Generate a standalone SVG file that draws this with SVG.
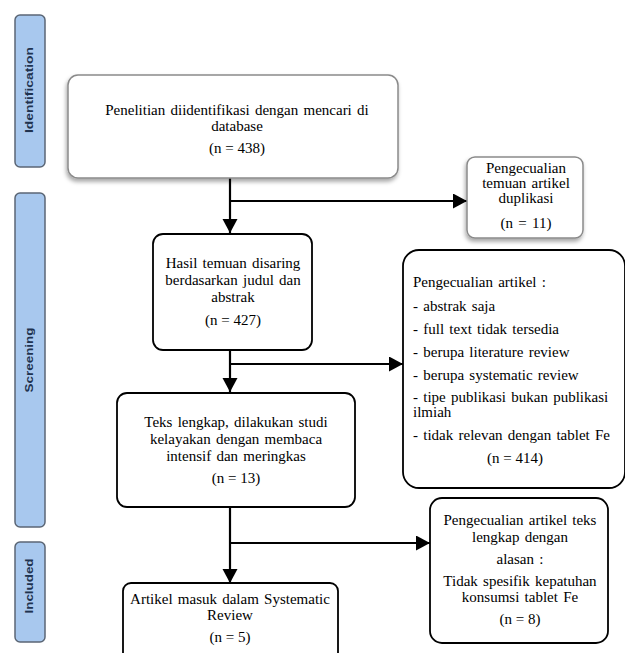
<svg xmlns="http://www.w3.org/2000/svg" width="625" height="653" viewBox="0 0 625 653">
<style>
.band{fill:#a8c8ee;stroke:#5b6675;stroke-width:1.5}
.bt{font-family:"Liberation Sans",Arial,sans-serif;font-weight:bold;font-size:11px;fill:#1f3350;text-anchor:middle}
.box{fill:#fff;stroke:#000;stroke-width:1.8}
.gbox{fill:#fff;stroke:#8a8a8a;stroke-width:1.5}
.t{font-family:"Liberation Serif","Times New Roman",serif;font-size:15px;word-spacing:1.5px;fill:#000;text-anchor:middle}
.tl{font-family:"Liberation Serif","Times New Roman",serif;font-size:15px;word-spacing:1.5px;fill:#000;text-anchor:start}
.n{word-spacing:0}
.c{fill:none;stroke:#000;stroke-width:2.2}
</style>
<defs>
<marker id="ah" markerUnits="userSpaceOnUse" markerWidth="16" markerHeight="16" refX="14" refY="7.5" orient="auto">
<path d="M0,0 L14,7.5 L0,15 z" fill="#000"/>
</marker>
<filter id="sh" x="-10%" y="-10%" width="120%" height="130%">
<feDropShadow dx="-1" dy="3" stdDeviation="2" flood-color="#000" flood-opacity="0.35"/>
</filter>
</defs>
<rect width="625" height="653" fill="#fff"/>
<g id="band-identification">
<rect class="band" x="15" y="15" width="30" height="152" rx="5"/>
<text class="bt" transform="translate(33,90) rotate(-90)" textLength="86" lengthAdjust="spacingAndGlyphs">Identification</text>
</g>
<g id="band-screening">
<rect class="band" x="15" y="193" width="30" height="334" rx="5"/>
<text class="bt" transform="translate(33,360) rotate(-90)" textLength="65" lengthAdjust="spacingAndGlyphs">Screening</text>
</g>
<g id="band-included">
<rect class="band" x="15" y="542" width="30" height="100" rx="5"/>
<text class="bt" transform="translate(33,586) rotate(-90)" textLength="55" lengthAdjust="spacingAndGlyphs">Included</text>
</g>
<g id="connectors">
<path class="c" d="M230,178 V233" marker-end="url(#ah)"/>
<path class="c" d="M230,201 H467" marker-end="url(#ah)"/>
<path class="c" d="M230,350 V392" marker-end="url(#ah)"/>
<path class="c" d="M230,364 H403" marker-end="url(#ah)"/>
<path class="c" d="M230,507 V583" marker-end="url(#ah)"/>
<path class="c" d="M230,543 H430" marker-end="url(#ah)"/>
</g>
<g id="identified">
<rect class="gbox" x="68" y="75" width="330" height="103" rx="10" filter="url(#sh)"/>
<text class="t" x="237" y="115">Penelitian diidentifikasi dengan mencari di</text>
<text class="t" x="237" y="131">database</text>
<text class="t n" x="237" y="153">(n = 438)</text>
</g>
<g id="duplicates">
<rect class="gbox" x="467" y="157" width="116" height="81" rx="8" filter="url(#sh)"/>
<text class="t" x="526" y="173">Pengecualian</text>
<text class="t" x="526" y="188">temuan artikel</text>
<text class="t" x="526" y="203">duplikasi</text>
<text class="t" x="526" y="228">(n = 11)</text>
</g>
<g id="screened">
<rect class="box" x="153" y="234" width="159" height="116" rx="10"/>
<text class="t" x="233" y="268">Hasil temuan disaring</text>
<text class="t" x="233" y="285">berdasarkan judul dan</text>
<text class="t" x="233" y="302">abstrak</text>
<text class="t n" x="233" y="325">(n = 427)</text>
</g>
<g id="excluded-screening">
<rect class="box" x="403" y="250" width="222" height="238" rx="16"/>
<text class="tl" x="413" y="287">Pengecualian artikel :</text>
<text class="tl" x="413" y="311">- abstrak saja</text>
<text class="tl" x="413" y="334">- full text tidak tersedia</text>
<text class="tl" x="413" y="357">- berupa literature review</text>
<text class="tl" x="413" y="380">- berupa systematic review</text>
<text class="tl" x="413" y="402">- tipe publikasi bukan publikasi</text>
<text class="tl" x="413" y="417">ilmiah</text>
<text class="tl" x="413" y="440">- tidak relevan dengan tablet Fe</text>
<text class="t n" x="515" y="463">(n = 414)</text>
</g>
<g id="fulltext">
<rect class="box" x="117" y="393" width="238" height="114" rx="10"/>
<text class="t" x="236" y="427">Teks lengkap, dilakukan studi</text>
<text class="t" x="236" y="444">kelayakan dengan membaca</text>
<text class="t" x="236" y="461">intensif dan meringkas</text>
<text class="t n" x="236" y="483">(n = 13)</text>
</g>
<g id="excluded-fulltext">
<rect class="box" x="430" y="498" width="178" height="145" rx="12"/>
<text class="t" x="520" y="525">Pengecualian artikel teks</text>
<text class="t" x="520" y="542">lengkap dengan</text>
<text class="t" x="520" y="564">alasan :</text>
<text class="t" x="520" y="586">Tidak spesifik kepatuhan</text>
<text class="t" x="520" y="602">konsumsi tablet Fe</text>
<text class="t n" x="520" y="624">(n = 8)</text>
</g>
<g id="included">
<rect class="box" x="123" y="583" width="215" height="90" rx="8"/>
<text class="t" x="230" y="604">Artikel masuk dalam Systematic</text>
<text class="t" x="230" y="620">Review</text>
<text class="t n" x="230" y="642">(n = 5)</text>
</g>
</svg>
